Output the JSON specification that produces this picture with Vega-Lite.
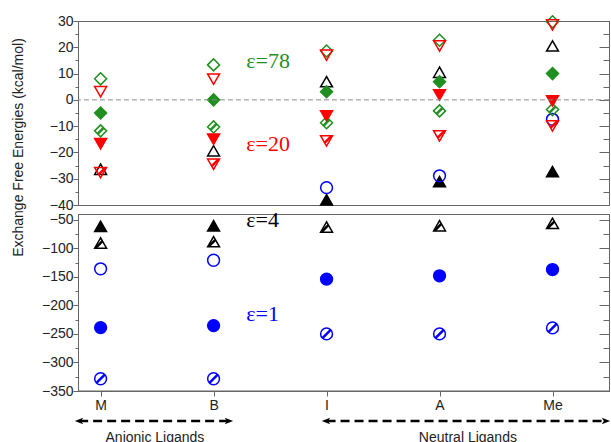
{
  "$schema": "https://vega.github.io/schema/vega-lite/v6.json",
  "padding": {"left": 10, "top": 12, "right": 1, "bottom": 0},
  "background": "white",
  "spacing": 9,
  "bounds": "flush",
  "config": {
    "view": {"stroke": "#666666", "strokeWidth": 1},
    "axis": {
      "domainColor": "#666666", "tickColor": "#666666", "labelColor": "#222222",
      "labelFont": "Liberation Sans", "labelFontSize": 14,
      "titleFont": "Liberation Sans", "titleFontSize": 14, "titleFontWeight": "normal", "titleColor": "#222222",
      "grid": false
    }
  },
  "datasets": {
    "pts": [
      {"lig": 1, "eps": "4", "kind": "open", "v": -26.4},
      {"lig": 2, "eps": "4", "kind": "open", "v": -19.4},
      {"lig": 3, "eps": "4", "kind": "open", "v": 6.9},
      {"lig": 4, "eps": "4", "kind": "open", "v": 10.5},
      {"lig": 5, "eps": "4", "kind": "open", "v": 20.5},
      {"lig": 1, "eps": "4", "kind": "filled", "v": -61.6},
      {"lig": 2, "eps": "4", "kind": "filled", "v": -60.6},
      {"lig": 3, "eps": "4", "kind": "filled", "v": -38},
      {"lig": 4, "eps": "4", "kind": "filled", "v": -31.1},
      {"lig": 5, "eps": "4", "kind": "filled", "v": -27.3},
      {"lig": 1, "eps": "4", "kind": "hatched", "v": -90.8},
      {"lig": 2, "eps": "4", "kind": "hatched", "v": -88.5},
      {"lig": 3, "eps": "4", "kind": "hatched", "v": -62.8},
      {"lig": 4, "eps": "4", "kind": "hatched", "v": -60.6},
      {"lig": 5, "eps": "4", "kind": "hatched", "v": -56.4},
      {"lig": 1, "eps": "1", "kind": "open", "v": -136},
      {"lig": 2, "eps": "1", "kind": "open", "v": -121},
      {"lig": 3, "eps": "1", "kind": "open", "v": -33.4},
      {"lig": 4, "eps": "1", "kind": "open", "v": -28.9},
      {"lig": 5, "eps": "1", "kind": "open", "v": -7.4},
      {"lig": 1, "eps": "1", "kind": "filled", "v": -239},
      {"lig": 2, "eps": "1", "kind": "filled", "v": -235.5},
      {"lig": 3, "eps": "1", "kind": "filled", "v": -154},
      {"lig": 4, "eps": "1", "kind": "filled", "v": -148.3},
      {"lig": 5, "eps": "1", "kind": "filled", "v": -137.3},
      {"lig": 1, "eps": "1", "kind": "hatched", "v": -328.5},
      {"lig": 2, "eps": "1", "kind": "hatched", "v": -328.5},
      {"lig": 3, "eps": "1", "kind": "hatched", "v": -250},
      {"lig": 4, "eps": "1", "kind": "hatched", "v": -250},
      {"lig": 5, "eps": "1", "kind": "hatched", "v": -239.5},
      {"lig": 1, "eps": "78", "kind": "open", "v": 8},
      {"lig": 2, "eps": "78", "kind": "open", "v": 13.3},
      {"lig": 3, "eps": "78", "kind": "open", "v": 18.6},
      {"lig": 4, "eps": "78", "kind": "open", "v": 22.7},
      {"lig": 5, "eps": "78", "kind": "open", "v": 29.7},
      {"lig": 1, "eps": "78", "kind": "filled", "v": -5},
      {"lig": 2, "eps": "78", "kind": "filled", "v": 0},
      {"lig": 3, "eps": "78", "kind": "filled", "v": 3.1},
      {"lig": 4, "eps": "78", "kind": "filled", "v": 6.9},
      {"lig": 5, "eps": "78", "kind": "filled", "v": 10},
      {"lig": 1, "eps": "78", "kind": "hatched", "v": -11.8},
      {"lig": 2, "eps": "78", "kind": "hatched", "v": -10.3},
      {"lig": 3, "eps": "78", "kind": "hatched", "v": -8.7},
      {"lig": 4, "eps": "78", "kind": "hatched", "v": -4.2},
      {"lig": 5, "eps": "78", "kind": "hatched", "v": -3.7},
      {"lig": 1, "eps": "20", "kind": "open", "v": 3.1},
      {"lig": 2, "eps": "20", "kind": "open", "v": 7.9},
      {"lig": 3, "eps": "20", "kind": "open", "v": 17},
      {"lig": 4, "eps": "20", "kind": "open", "v": 20.5},
      {"lig": 5, "eps": "20", "kind": "open", "v": 28.5},
      {"lig": 1, "eps": "20", "kind": "filled", "v": -16.7},
      {"lig": 2, "eps": "20", "kind": "filled", "v": -15},
      {"lig": 3, "eps": "20", "kind": "filled", "v": -6.1},
      {"lig": 4, "eps": "20", "kind": "filled", "v": 1.9},
      {"lig": 5, "eps": "20", "kind": "filled", "v": -0.4},
      {"lig": 1, "eps": "20", "kind": "hatched", "v": -27.7},
      {"lig": 2, "eps": "20", "kind": "hatched", "v": -24.5},
      {"lig": 3, "eps": "20", "kind": "hatched", "v": -15.6},
      {"lig": 4, "eps": "20", "kind": "hatched", "v": -13.7},
      {"lig": 5, "eps": "20", "kind": "hatched", "v": -9.9}
    ],
    "epsLabels": [
      {"eps": "78", "text": "ε=78", "lig": 2.29, "v": 14.8},
      {"eps": "20", "text": "ε=20", "lig": 2.29, "v": -16.8},
      {"eps": "4", "text": "ε=4", "lig": 2.29, "v": -50.7},
      {"eps": "1", "text": "ε=1", "lig": 2.29, "v": -214.5}
    ],
    "arrows": [
      {"group": "Anionic Ligands", "lig": 0.81, "lig2": 2.13, "v": -402.5},
      {"group": "Neutral Ligands", "lig": 3.0, "lig2": 5.47, "v": -402.5}
    ],
    "heads": [
      {"dir": "left", "lig": 0.809, "v": -402.5},
      {"dir": "right", "lig": 2.136, "v": -402.5},
      {"dir": "left", "lig": 2.995, "v": -402.5},
      {"dir": "right", "lig": 5.473, "v": -402.5}
    ],
    "notes": [
      {"text": "Anionic Ligands", "lig": 1.481, "v": -432},
      {"text": "Neutral Ligands", "lig": 4.251, "v": -432}
    ]
  },
  "vconcat": [
    {
      "width": 531,
      "height": 184,
      "resolve": {"axis": {"y": "independent"}},
      "layer": [
        {
          "encoding": {
            "x": {"field": "lig", "type": "quantitative", "scale": {"domain": [0.8, 5.5], "nice": false, "zero": false}, "axis": null},
            "y": {"field": "v", "type": "quantitative", "scale": {"domain": [-40, 30], "nice": false, "zero": false},
                  "axis": {"orient": "left", "values": [-40, -35, -30, -25, -20, -15, -10, -5, 0, 5, 10, 15, 20, 25, 30],
                           "labelExpr": "datum.value % 10 === 0 ? datum.label : ''",
                           "tickSize": 5, "labelPadding": 0, "labelOverlap": false,
                           "tickDash": {"condition": {"test": "datum.value % 10 !== 0", "value": [3, 100]}, "value": [100, 0]},
                           "title": "Exchange Free Energies (kcal/mol)",
                           "titleAngle": -90, "titleX": -60, "titleY": 126, "titleBaseline": "middle", "titleAlign": "center"}}
          },
          "resolve": {"scale": {"shape": "independent"}},
          "layer": [
            {
              "data": {"name": "pts"},
              "transform": [{"filter": "datum.v >= -40"}],
              "mark": {"type": "point", "filled": true, "strokeWidth": 1.5, "opacity": 1},
              "encoding": {
                "shape": {"field": "eps", "type": "nominal", "scale": {"domain": ["78", "20", "4", "1"], "range": ["diamond", "triangle-down", "triangle-up", "circle"]}, "legend": null},
                "stroke": {"field": "eps", "type": "nominal", "scale": {"domain": ["78", "20", "4", "1"], "range": ["#1f8f1f", "#ff0000", "#000000", "#0000ff"]}, "legend": null},
                "fill": {"field": "eps", "type": "nominal", "scale": {"domain": ["78", "20", "4", "1"], "range": ["#1f8f1f", "#ff0000", "#000000", "#0000ff"]}, "legend": null},
                "fillOpacity": {"condition": {"test": "datum.kind === 'filled'", "value": 1}, "value": 0},
                "size": {"field": "eps", "type": "ordinal", "scale": {"domain": ["78", "20", "4", "1"], "range": [144, 140, 140, 120]}, "legend": null}
              }
            },
            {
              "data": {"name": "pts"},
              "transform": [{"filter": "datum.v >= -40 && datum.kind === 'hatched'"}],
              "mark": {"type": "point", "filled": false, "strokeWidth": 2.5, "opacity": 1},
              "encoding": {
                "shape": {"field": "eps", "type": "nominal", "scale": {"domain": ["78", "20", "4", "1"], "range": ["M-0.5,0.5L0.5,-0.5", "M-0.3,0.3L0.8,-0.8", "M-0.8,0.8L0.3,-0.3", "M-0.7,0.7L0.7,-0.7"]}, "legend": null},
                "stroke": {"field": "eps", "type": "nominal", "legend": null},
                "size": {"field": "eps", "type": "ordinal", "legend": null}
              }
            },
            {
              "data": {"name": "epsLabels"},
              "transform": [{"filter": "datum.v >= -40"}],
              "mark": {"type": "text", "font": "Liberation Serif", "fontSize": 22, "align": "left", "baseline": "middle"},
              "encoding": {
                "text": {"field": "text"},
                "color": {"field": "eps", "type": "nominal", "scale": {"domain": ["78", "20", "4", "1"], "range": ["#1f8f1f", "#ff0000", "#000000", "#0000ff"]}, "legend": null}
              }
            }
          ]
        },
        {
          "data": {"values": [{}]},
          "mark": {"type": "rule", "color": "#888888", "strokeDash": [5, 3], "strokeWidth": 1},
          "encoding": {
            "y": {"datum": 0, "type": "quantitative",
                  "axis": {"orient": "right", "values": [-40, -35, -30, -25, -20, -15, -10, -5, 0, 5, 10, 15, 20, 25, 30],
                           "labels": false, "title": null, "tickSize": -10,
                           "tickDash": {"condition": {"test": "datum.value % 10 !== 0", "value": [6, 100]}, "value": [100, 0]}}}
          }
        }
      ]
    },
    {
      "width": 531,
      "height": 177,
      "resolve": {"axis": {"y": "independent"}},
      "layer": [
        {
          "encoding": {
            "x": {"field": "lig", "type": "quantitative", "scale": {"domain": [0.8, 5.5], "nice": false, "zero": false},
                  "axis": {"orient": "bottom", "values": [1, 2, 3, 4, 5],
                           "labelExpr": "['', 'M', 'B', 'I', 'A', 'Me'][datum.value]",
                           "tickSize": 5, "labelPadding": 2, "labelFlush": false, "title": null}},
            "y": {"field": "v", "type": "quantitative", "scale": {"domain": [-350, -40], "nice": false, "zero": false},
                  "axis": {"orient": "left", "values": [-350, -325, -300, -275, -250, -225, -200, -175, -150, -125, -100, -75, -50],
                           "labelExpr": "datum.value % 50 === 0 ? datum.label : ''",
                           "tickSize": 5, "labelPadding": 0, "labelOverlap": false, "title": null,
                           "tickDash": {"condition": {"test": "datum.value % 50 !== 0", "value": [3, 100]}, "value": [100, 0]}}}
          },
          "resolve": {"scale": {"shape": "independent"}},
          "layer": [
            {
              "data": {"name": "pts"},
              "transform": [{"filter": "datum.v < -40"}],
              "mark": {"type": "point", "filled": true, "strokeWidth": 1.5, "opacity": 1},
              "encoding": {
                "shape": {"field": "eps", "type": "nominal", "scale": {"domain": ["78", "20", "4", "1"], "range": ["diamond", "triangle-down", "triangle-up", "circle"]}, "legend": null},
                "stroke": {"field": "eps", "type": "nominal", "scale": {"domain": ["78", "20", "4", "1"], "range": ["#1f8f1f", "#ff0000", "#000000", "#0000ff"]}, "legend": null},
                "fill": {"field": "eps", "type": "nominal", "scale": {"domain": ["78", "20", "4", "1"], "range": ["#1f8f1f", "#ff0000", "#000000", "#0000ff"]}, "legend": null},
                "fillOpacity": {"condition": {"test": "datum.kind === 'filled'", "value": 1}, "value": 0},
                "size": {"field": "eps", "type": "ordinal", "scale": {"domain": ["78", "20", "4", "1"], "range": [144, 140, 140, 120]}, "legend": null}
              }
            },
            {
              "data": {"name": "pts"},
              "transform": [{"filter": "datum.v < -40 && datum.kind === 'hatched'"}],
              "mark": {"type": "point", "filled": false, "strokeWidth": 2.5, "opacity": 1},
              "encoding": {
                "shape": {"field": "eps", "type": "nominal", "scale": {"domain": ["78", "20", "4", "1"], "range": ["M-0.5,0.5L0.5,-0.5", "M-0.3,0.3L0.8,-0.8", "M-0.8,0.8L0.3,-0.3", "M-0.7,0.7L0.7,-0.7"]}, "legend": null},
                "stroke": {"field": "eps", "type": "nominal", "legend": null},
                "size": {"field": "eps", "type": "ordinal", "legend": null}
              }
            },
            {
              "data": {"name": "epsLabels"},
              "transform": [{"filter": "datum.v < -40"}],
              "mark": {"type": "text", "font": "Liberation Serif", "fontSize": 22, "align": "left", "baseline": "middle"},
              "encoding": {
                "text": {"field": "text"},
                "color": {"field": "eps", "type": "nominal", "scale": {"domain": ["78", "20", "4", "1"], "range": ["#1f8f1f", "#ff0000", "#000000", "#0000ff"]}, "legend": null}
              }
            },
            {
              "data": {"name": "arrows"},
              "mark": {"type": "rule", "color": "#000000", "strokeWidth": 2.5, "strokeDash": [9, 5]},
              "encoding": {
                "x2": {"field": "lig2"}
              }
            },
            {
              "data": {"name": "heads"},
              "mark": {"type": "point", "filled": true, "color": "#000000", "opacity": 1, "size": 70},
              "encoding": {
                "shape": {"field": "dir", "type": "nominal", "scale": {"domain": ["left", "right"], "range": ["M-1,0L1,-0.8L0.5,0L1,0.8Z", "M1,0L-1,-0.8L-0.5,0L-1,0.8Z"]}, "legend": null}
              }
            },
            {
              "data": {"name": "notes"},
              "mark": {"type": "text", "font": "Liberation Sans", "fontSize": 14, "color": "#222222", "align": "center", "baseline": "middle"},
              "encoding": {
                "text": {"field": "text"}
              }
            }
          ]
        },
        {
          "data": {"values": [{}]},
          "mark": {"type": "rule", "color": "#666666", "strokeWidth": 1},
          "encoding": {
            "y": {"datum": -350, "type": "quantitative",
                  "axis": {"orient": "right", "values": [-350, -325, -300, -275, -250, -225, -200, -175, -150, -125, -100, -75, -50],
                           "labels": false, "title": null, "tickSize": -10,
                           "tickDash": {"condition": {"test": "datum.value % 50 !== 0", "value": [6, 100]}, "value": [100, 0]}}}
          }
        }
      ]
    }
  ]
}
